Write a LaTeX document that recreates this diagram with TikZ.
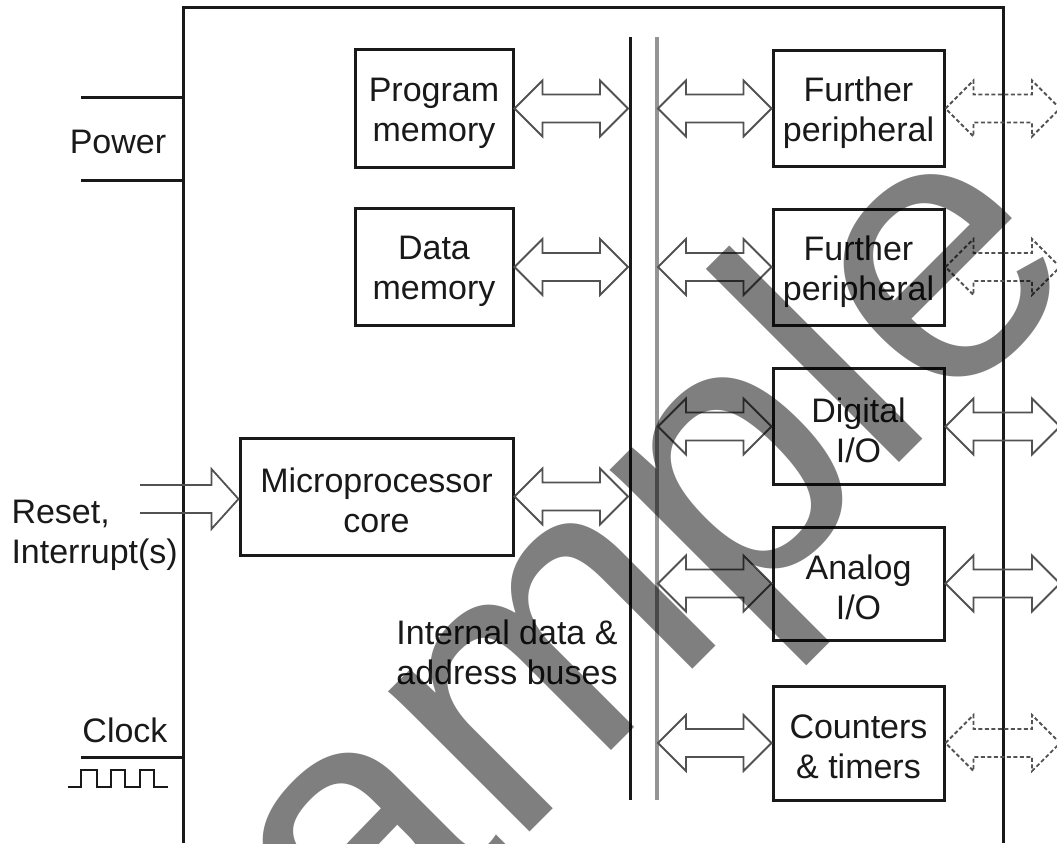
\documentclass[tikz,border=0pt]{standalone}
\usepackage{fontspec}
\setmainfont{Liberation Sans}
\usetikzlibrary{calc}
\newcommand\dblarr[3][]{%
  \draw[arr,#1] let \p1=(#2), \p2=(#3) in
    (\x1,\y1) -- (\x1+28pt,\y1+28pt) -- (\x1+28pt,\y1+14pt) -- (\x2-28pt,\y1+14pt)
    -- (\x2-28pt,\y1+28pt) -- (\x2,\y1) -- (\x2-28pt,\y1-28pt) -- (\x2-28pt,\y1-14pt)
    -- (\x1+28pt,\y1-14pt) -- (\x1+28pt,\y1-28pt) -- cycle;}
\begin{document}
\begin{tikzpicture}[x=1pt,y=-1pt,
  every node/.style={font=\fontsize{34}{40}\selectfont, text=black!90},
  blk/.style={draw=black!90, line width=3pt, inner sep=0pt},
  memb/.style={blk, minimum width=158pt, minimum height=117pt},
  perb/.style={blk, minimum width=171pt, minimum height=116pt},
  lbl/.style={align=center, inner sep=0pt},
  arr/.style={draw=black!68, line width=1.8pt, line join=miter},
  dsh/.style={dash pattern=on 4pt off 2.5pt},
  wire/.style={draw=black!90, line width=3pt}]
\useasboundingbox (0,0) rectangle (1057,843);
\clip (0,0) rectangle (1057,843);
% enclosure
\draw[wire] (183,843) -- (183,8) -- (1003,8) -- (1003,843);
% buses
\draw[wire] (630,37) -- (630,800);
\draw[draw=black!42, line width=4.5pt] (657,37) -- (657,800);
% blocks
\node[memb] (pm) at (434,108.5) {};
\node[memb] (dm) at (434,267) {};
\node[blk, minimum width=273pt, minimum height=117pt] (mc) at (376.5,496.5) {};
\node[perb] (fp1) at (858.5,108.5) {};
\node[perb] (fp2) at (858.5,267) {};
\node[perb] (dio) at (858.5,426.5) {};
\node[perb, minimum height=113pt] (aio) at (858.5,583.5) {};
\node[perb, minimum height=114pt] (ct) at (858.5,743) {};
% block texts
\node[lbl] (pmt) at ([yshift=-4.5pt]pm.center) {Program\\memory};
\node[lbl] (dmt) at ([yshift=-4.5pt]dm.center) {Data\\memory};
\node[lbl] (mct) at ([yshift=-4pt]mc.center) {Microprocessor\\core};
\node[lbl] (fp1t) at ([yshift=-4.5pt]fp1.center) {Further\\peripheral};
\node[lbl] (fp2t) at ([yshift=-4.5pt]fp2.center) {Further\\peripheral};
\node[lbl] (diot) at ([yshift=-4pt]dio.center) {Digital\\I/O};
\node[lbl] (aiot) at ([yshift=-4pt]aio.center) {Analog\\I/O};
\node[lbl] (ctt) at ([yshift=-4pt]ct.center) {Counters\\\& timers};
% bus tap coordinates
\foreach \n/\y in {pm/108.5, dm/267, mc/496.5} {\coordinate (b\n) at (628,\y);}
\foreach \n/\y in {fp1/108.5, fp2/267, dio/426.5, aio/583.5, ct/743} {
  \coordinate (g\n) at (658,\y);
  \coordinate (o\n) at (1060,\y);}
% arrows left of bus
\dblarr{pm.east}{bpm}
\dblarr{dm.east}{bdm}
\dblarr{mc.east}{bmc}
% arrows right of bus
\dblarr{gfp1}{fp1.west}
\dblarr{gfp2}{fp2.west}
\dblarr{gdio}{dio.west}
\dblarr{gaio}{aio.west}
\dblarr{gct}{ct.west}
% outer arrows
\dblarr[dsh]{fp1.east}{ofp1}
\dblarr[dsh]{fp2.east}{ofp2}
\dblarr{dio.east}{odio}
\dblarr{aio.east}{oaio}
\dblarr[dsh]{ct.east}{oct}
% reset / interrupt input
\coordinate (rin) at (140,499);
\draw[arr] let \p1=(rin), \p2=(mc.west) in
  (\x1,\y1+14pt) -- (\x2-27pt,\y1+14pt) -- (\x2-27pt,\y1+30pt) -- (\x2,\y1)
  -- (\x2-27pt,\y1-30pt) -- (\x2-27pt,\y1-14pt) -- (\x1,\y1-14pt);
\node[anchor=west, align=left] (rst) at (8,535) {Reset,\\Interrupt(s)};
% power
\draw[wire] (81,97) -- (183,97);
\draw[wire] (81,180) -- (183,180);
\node (pwr) at (118,142) {Power};
% clock
\node (clk) at (125,730) {Clock};
\draw[wire] (81,757) -- (183,757);
\draw[draw=black!90, line width=2.5pt] (68,787) -- (81,787) -- (81,770) -- (97,770) -- (97,787)
  -- (111,787) -- (111,770) -- (125,770) -- (125,787) -- (140,787) -- (140,770)
  -- (154,770) -- (154,787) -- (168,787);
% bus label
\node[align=center] (bus) at (507,652) {Internal data \&\\address buses};
% watermark
\node[rotate=45, anchor=base, text=black, opacity=0.5,
  font=\fontsize{377}{377}\selectfont] (wm) at (637.5,724.5) {Sample};
\end{tikzpicture}
\end{document}
